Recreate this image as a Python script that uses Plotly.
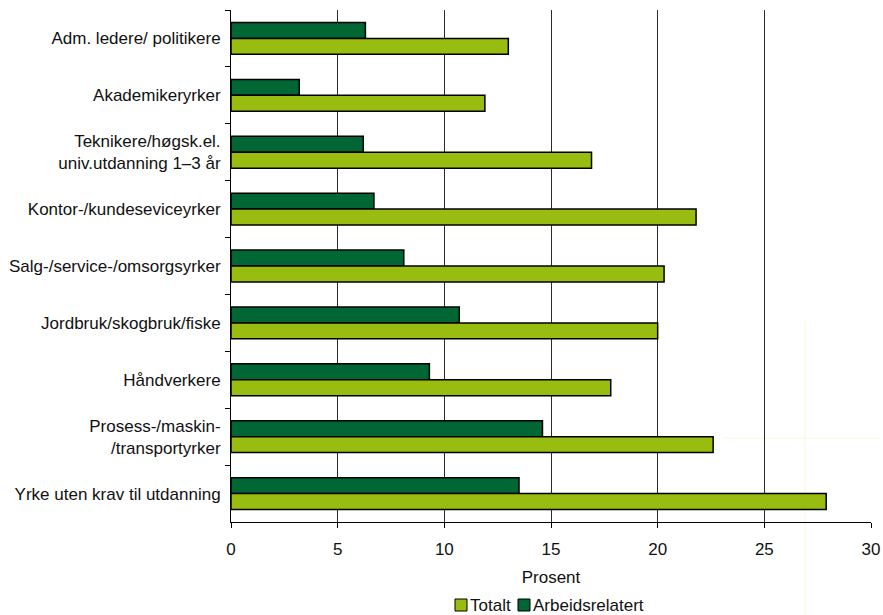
import plotly.graph_objects as go

# Occupational groups (top to bottom)
categories = [
    "Adm. ledere/ politikere",
    "Akademikeryrker",
    "Teknikere/høgsk.el.<br>univ.utdanning 1–3 år",
    "Kontor-/kundeseviceyrker",
    "Salg-/service-/omsorgsyrker",
    "Jordbruk/skogbruk/fiske",
    "Håndverkere",
    "Prosess-/maskin-<br>/transportyrker",
    "Yrke uten krav til utdanning",
]

# Percent values per group
totalt = [13.0, 11.9, 16.9, 21.8, 20.3, 20.0, 17.8, 22.6, 27.9]
arbeidsrelatert = [6.3, 3.2, 6.2, 6.7, 8.1, 10.7, 9.3, 14.6, 13.5]

x_ticks = [0, 5, 10, 15, 20, 25, 30]

LIGHT = "#99bc10"
DARK = "#006634"
FONT = "Liberation Sans, Arial, Helvetica, sans-serif"
FS = 17

W, H = 883, 615
ML, MR, MT, MB = 231, 12, 10, 93
PW, PH = W - ML - MR, H - MT - MB


def px_x(px):
    return (px - ML) / PW


def px_y(py):
    return (H - MB - py) / PH


fig = go.Figure()
fig.add_trace(go.Bar(
    y=categories, x=arbeidsrelatert, name="Arbeidsrelatert", orientation="h",
    marker=dict(color=DARK, line=dict(color="#000000", width=1.5)),
    showlegend=False,
))
fig.add_trace(go.Bar(
    y=categories, x=totalt, name="Totalt", orientation="h",
    marker=dict(color=LIGHT, line=dict(color="#000000", width=1.5)),
    showlegend=False,
))

fig.update_layout(
    width=W, height=H,
    margin=dict(l=ML, r=MR, t=MT, b=MB, autoexpand=False),
    paper_bgcolor="white", plot_bgcolor="white",
    barmode="group", bargap=0.44, bargroupgap=0,
    font=dict(family=FONT, size=FS, color="#111111"),
)

fig.update_xaxes(
    range=[0, 30], tickvals=x_ticks, ticktext=[str(v) for v in x_ticks],
    showgrid=True, gridcolor="#2b2b2b", gridwidth=1,
    showline=True, linecolor="#000000", linewidth=1,
    ticks="outside", ticklen=5, tickcolor="#000000",
    ticklabelstandoff=7,
    zeroline=False,
    title=dict(text="Prosent", standoff=12, font=dict(size=FS)),
)
fig.update_yaxes(
    autorange="reversed",
    showline=True, linecolor="#000000", linewidth=1,
    ticks="outside", ticklen=5, tickcolor="#000000",
    tickson="boundaries", showgrid=False,
    ticklabelstandoff=6,
)

# compact legend row below the axis title: bordered swatch + label
legend_items = [("Totalt", LIGHT, 455), ("Arbeidsrelatert", DARK, 518)]
for label, color, left in legend_items:
    fig.add_shape(type="rect", xref="paper", yref="paper",
                  x0=px_x(left), x1=px_x(left + 12),
                  y0=px_y(611), y1=px_y(599),
                  fillcolor=color, line=dict(color="#000000", width=1))
    fig.add_annotation(xref="paper", yref="paper",
                       x=px_x(left + 13), y=px_y(605),
                       xanchor="left", yanchor="middle",
                       text=label, showarrow=False,
                       font=dict(size=FS, color="#111111"))

# faint guide lines in the lower-right background
fig.add_shape(type="line", xref="paper", yref="paper",
              x0=px_x(805), x1=px_x(805), y0=px_y(615), y1=px_y(320),
              line=dict(color="#f8f8d8", width=1), layer="below")
fig.add_shape(type="line", xref="paper", yref="paper",
              x0=px_x(723), x1=px_x(880), y0=px_y(438), y1=px_y(438),
              line=dict(color="#f8f8d8", width=1), layer="below")

fig.write_html("out.html")
